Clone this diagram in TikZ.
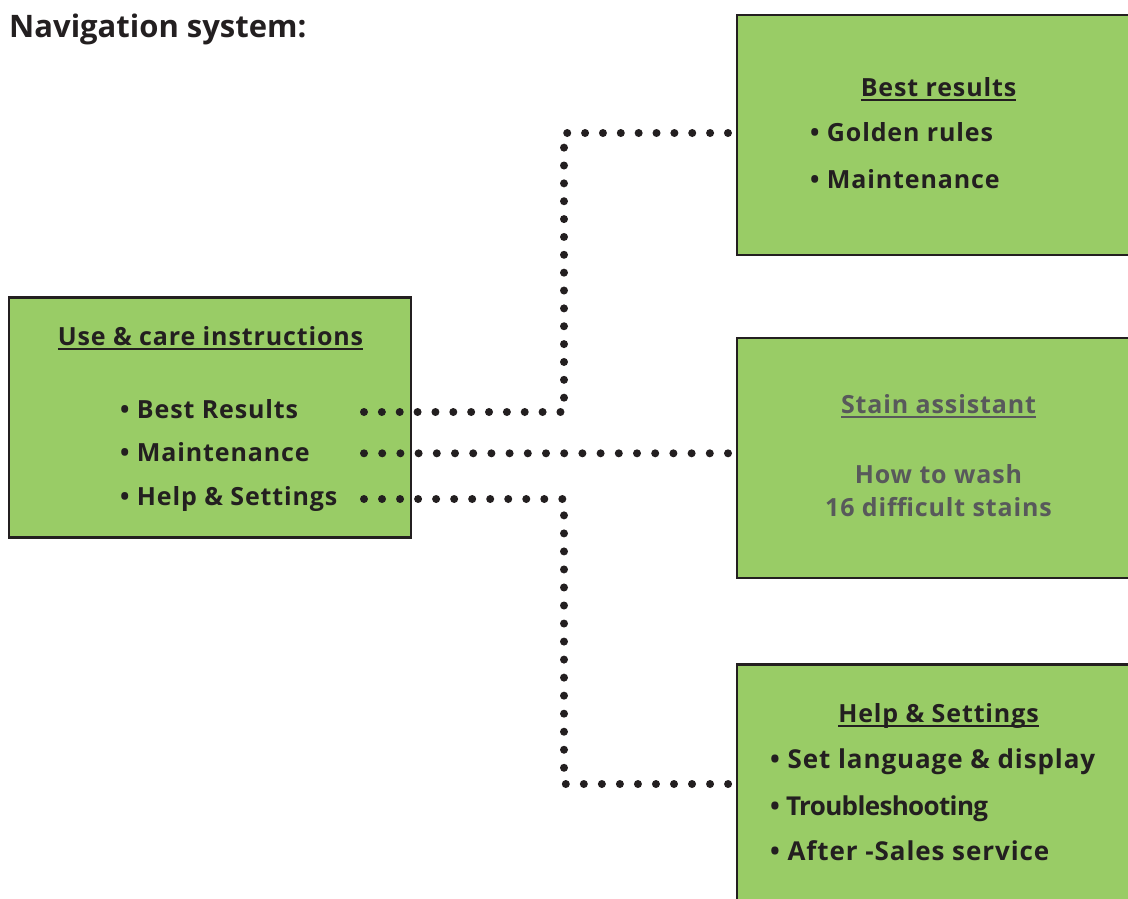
\documentclass[tikz,border=0pt]{standalone}
\usepackage{fontspec}
\setmainfont{Open Sans}
\newfontfamily\boxfont{Open Sans}[LetterSpace=3.5]
\newfontfamily\tightfont{Open Sans}[LetterSpace=-2.5]
\definecolor{boxgreen}{HTML}{99CC66}
\definecolor{ink}{HTML}{231F20}
\definecolor{grayink}{HTML}{58595B}
\newcommand{\myul}[1]{\setbox0\hbox{#1}\rlap{\rule[-4.5pt]{\wd0}{2pt}}\box0}
\begin{document}
\begin{tikzpicture}[x=1pt,y=-1pt,
  navbox/.style={draw=ink, line width=2.5pt, fill=boxgreen, rectangle, inner sep=0pt},
  txt/.style={inner sep=0pt, font=\boxfont\fontsize{25}{30}\selectfont\bfseries, text=ink},
  bigtxt/.style={inner sep=0pt, font=\boxfont\fontsize{26}{30}\selectfont\bfseries, text=ink},
  graytxt/.style={txt, text=grayink},
  title/.style={inner sep=0pt, font=\fontsize{31}{36}\selectfont\bfseries, text=ink, anchor=base west},
  dots/.style={draw=ink, line width=8pt, line cap=round, dash pattern=on 0pt off #1},
  dots/.default=18pt
]
\useasboundingbox (0,0) rectangle (1128,898);
\clip (0,0) rectangle (1128,898);

% boxes
\node[navbox, minimum width=402pt, minimum height=240pt] (main) at (210,417.5) {};
\node[navbox, minimum width=403pt, minimum height=240pt] (best) at (938.5,135) {};
\node[navbox, minimum width=403pt, minimum height=240pt] (stain) at (938.5,458) {};
\node[navbox, minimum width=403pt, minimum height=335pt] (help) at (938.5,832) {};

% title
\node[title] (ttl) at (9,37.5) {Navigation system:};

% main box text
\node[txt, anchor=base] (mainh) at (210.5,345) {\myul{Use \& care instructions}};
\node[txt, anchor=base west] (m1) at (120,418.5) {• Best Results};
\node[txt, anchor=base west] (m2) at (120,461.5) {• Maintenance};
\node[txt, anchor=base west] (m3) at (120,505) {• Help \& Settings};

% best results box
\node[txt, anchor=base] (besth) at (938.5,96.5) {\myul{Best results}};
\node[txt, anchor=base west] (b1) at (810,141.5) {• Golden rules};
\node[txt, anchor=base west] (b2) at (810,188) {• Maintenance};

% stain box
\node[graytxt, anchor=base] (stainh) at (938.5,413.5) {\myul{Stain assistant}};
\node[graytxt, anchor=base] (s1) at (938.5,483.3) {How to wash};
\node[graytxt, anchor=base] (s2) at (938.5,516.7) {16 difficult stains};

% help box
\node[txt, anchor=base] (helph) at (938.5,722.7) {\myul{Help \& Settings}};
\node[bigtxt, anchor=base west] (h1) at (770,768.3) {• Set language \& display};
\node[bigtxt, anchor=base west, font=\tightfont\fontsize{26}{30}\selectfont\bfseries] (h2) at (770,815) {• Troubleshooting};
\node[bigtxt, anchor=base west] (h3) at (770,860) {• After -Sales service};

% connectors
\coordinate (a1) at (364,412);
\coordinate (a2) at (364,453.3);
\coordinate (a3) at (364,499);
\coordinate (k1) at (564,133);
\coordinate (k3) at (564,784);
\draw[dots=17.86pt, shorten >=4pt] (a1) -| (k1) -- (k1 -| best.west);
\draw[dots=18.2pt, shorten >=4pt] (a2) -- (a2 -| stain.west);
\draw[dots=18.03pt, shorten >=4pt] (a3) -| (k3) -- (k3 -| help.west);
\end{tikzpicture}
\end{document}
